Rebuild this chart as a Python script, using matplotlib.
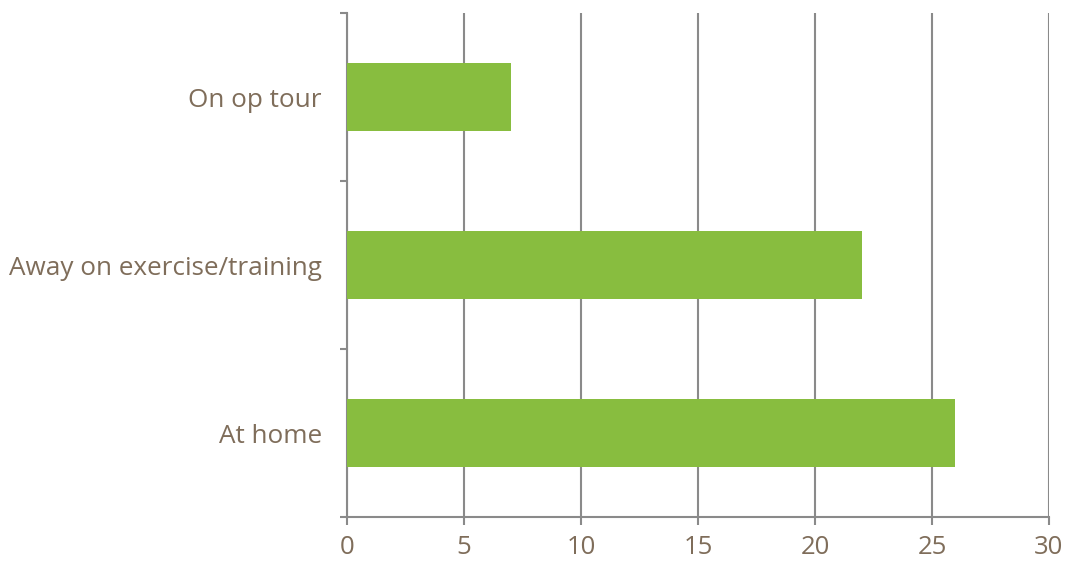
import matplotlib
matplotlib.use("Agg")
import matplotlib.pyplot as plt
from matplotlib.ticker import FixedLocator

categories = ["At home", "Away on exercise/training", "On op tour"]
values = [26, 22, 7]
x_ticks = [0, 5, 10, 15, 20, 25, 30]

bar_color = "#88bd3f"
text_color = "#7f6d5a"
grid_color = "#8a8a8a"

plt.rcParams["font.family"] = ["Open Sans", "DejaVu Sans"]

fig = plt.figure(figsize=(10.67, 5.61), dpi=100)
ax = fig.add_axes([0.3252, 0.0784, 0.6579, 0.8984])

pos = list(range(len(categories)))
ax.barh(pos, values, height=0.4, color=bar_color, zorder=3)

ax.set_xlim(0, 30)
ax.set_ylim(-0.5, len(categories) - 0.5)
ax.set_xticks(x_ticks)
ax.set_xticklabels([str(t) for t in x_ticks], fontsize=18.5, color=text_color)
ax.set_yticks(pos)
ax.set_yticklabels(categories, fontsize=18.8, color=text_color)
ax.yaxis.set_minor_locator(FixedLocator([-0.5, 0.5, 1.5, 2.5]))

ax.tick_params(axis="y", which="major", length=0, pad=18)
ax.tick_params(axis="y", which="minor", length=5, width=1.5, color=grid_color, direction="out")
ax.tick_params(axis="x", length=6, width=1.5, color=grid_color, pad=7)

ax.grid(axis="x", color=grid_color, linewidth=1.5, zorder=1)
for side in ["top", "right"]:
    ax.spines[side].set_visible(False)
for side in ["left", "bottom"]:
    ax.spines[side].set_color(grid_color)
    ax.spines[side].set_linewidth(1.5)

fig.savefig("out.png", dpi=100)
